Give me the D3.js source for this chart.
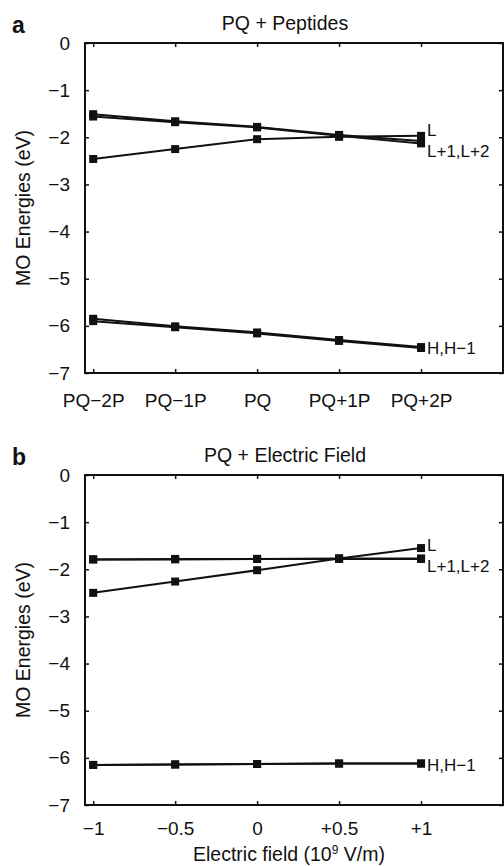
<!DOCTYPE html>
<html>
<head>
<meta charset="utf-8">
<script src="https://cdn.jsdelivr.net/npm/d3@7"></script>
<style>
  body { margin: 0; background: #fff; }
  svg text { font-family: "Liberation Sans", Arial, sans-serif; fill: #111; }
</style>
</head>
<body>
<script>
const width = 504
const height = 866

// panel a: PQ + peptides
const peptideCats = ["PQ\u22122P", "PQ\u22121P", "PQ", "PQ+1P", "PQ+2P"]
const pepL   = [-2.46, -2.25, -2.04, -1.99, -1.97]
const pepL1  = [-1.51, -1.66, -1.78, -1.95, -2.08]
const pepL2  = [-1.56, -1.68, -1.79, -1.97, -2.13]
const pepH   = [-5.85, -6.01, -6.14, -6.30, -6.45]
const pepH1  = [-5.90, -6.03, -6.16, -6.32, -6.47]

// panel b: PQ + electric field
const fieldVals = [-1, -0.5, 0, 0.5, 1]
const fieldTickLabels = ["\u22121", "\u22120.5", "0", "+0.5", "+1"]
const efL   = [-2.50, -2.26, -2.02, -1.77, -1.55]
const efL1  = [-1.79, -1.78, -1.78, -1.77, -1.77]
const efL2  = [-1.79, -1.79, -1.78, -1.78, -1.78]
const efH   = [-6.15, -6.14, -6.13, -6.12, -6.12]
const efH1  = [-6.15, -6.14, -6.13, -6.12, -6.12]

const yTicks = [0, -1, -2, -3, -4, -5, -6, -7]
const fmtY = d => d === 0 ? "0" : "\u2212" + Math.abs(d)

const svg = d3.select("body").append("svg")
    .attr("width", width)
    .attr("height", height)

function drawPanel(opt) {
    const left = 85, right = 503
    const x = d3.scaleLinear().domain(opt.xDomain).range([left, right])
    const y = d3.scaleLinear().domain([-7, 0]).range([opt.top + 330, opt.top])
    const g = svg.append("g")

    // box
    g.append("rect")
        .attr("x", left).attr("y", opt.top)
        .attr("width", right - left).attr("height", 330)
        .attr("fill", "none").attr("stroke", "#111").attr("stroke-width", 2)

    const left_ax = g.append("g").attr("transform", `translate(${left},0)`)
        .call(d3.axisLeft(y).tickValues(yTicks).tickFormat(fmtY).tickSize(-4).tickPadding(15))
    const right_ax = g.append("g").attr("transform", `translate(${right},0)`)
        .call(d3.axisRight(y).tickValues(yTicks).tickFormat("").tickSize(-4))
    const bot_ax = g.append("g").attr("transform", `translate(0,${opt.top + 330})`)
        .call(d3.axisBottom(x).tickValues(opt.xVals).tickFormat((d, i) => opt.xLabels[i]).tickSize(-4).tickPadding(opt.xPad))
    const top_ax = g.append("g").attr("transform", `translate(0,${opt.top})`)
        .call(d3.axisTop(x).tickValues(opt.xVals).tickFormat("").tickSize(-4))

    ;[left_ax, right_ax, bot_ax, top_ax].forEach(a => {
        a.select(".domain").remove()
        a.selectAll(".tick line").attr("stroke", "#111").attr("stroke-width", 1.5)
        a.selectAll("text").style("font-size", "19px").attr("fill", "#111")
    })

    const line = d3.line().x((d, i) => x(opt.xVals[i])).y(d => y(d))
    opt.series.forEach(s => {
        g.append("path").datum(s)
            .attr("d", line)
            .attr("fill", "none").attr("stroke", "#111").attr("stroke-width", 2)
        g.selectAll(null).data(s).enter().append("rect")
            .attr("x", (d, i) => x(opt.xVals[i]) - 4)
            .attr("y", d => y(d) - 4)
            .attr("width", 8).attr("height", 8)
            .attr("fill", "#111")
    })

    // end labels
    const lastX = x(opt.xVals[4]) + 6
    opt.endLabels.forEach(l => {
        g.append("text").attr("x", lastX).attr("y", y(l.v))
            .attr("dy", "0.36em").style("font-size", "17px").text(l.t)
    })

    // title and panel letter
    g.append("text").attr("x", 285).attr("y", opt.top - 13)
        .attr("text-anchor", "middle").style("font-size", "19.5px").text(opt.title)
    g.append("text").attr("x", 12).attr("y", opt.top - 10)
        .style("font-size", "23px").style("font-weight", "bold").text(opt.letter)

    g.append("text")
        .attr("transform", `translate(30,${opt.top + 165}) rotate(-90)`)
        .attr("text-anchor", "middle").style("font-size", "19.5px")
        .text("MO Energies (eV)")
    return x
}

drawPanel({
    top: 43,
    xDomain: [-0.1, 5],
    xVals: [0, 1, 2, 3, 4],
    xLabels: peptideCats,
    xPad: 21,
    series: [pepL, pepL1, pepL2, pepH, pepH1],
    endLabels: [{t: "L", v: -1.84}, {t: "L+1,L+2", v: -2.28}, {t: "H,H\u22121", v: -6.46}],
    title: "PQ + Peptides",
    letter: "a"
})

drawPanel({
    top: 475,
    xDomain: [-1.05, 1.5],
    xVals: fieldVals,
    xLabels: fieldTickLabels,
    xPad: 17,
    series: [efL, efL1, efL2, efH, efH1],
    endLabels: [{t: "L", v: -1.49}, {t: "L+1,L+2", v: -1.93}, {t: "H,H\u22121", v: -6.15}],
    title: "PQ + Electric Field",
    letter: "b"
})

svg.append("text").attr("x", 289).attr("y", 861)
    .attr("text-anchor", "middle").style("font-size", "19.5px")
    .html("Electric field (10<tspan dy='-7' style='font-size:12px'>9</tspan><tspan dy='7'> V/m)</tspan>")
</script>
</body>
</html>
